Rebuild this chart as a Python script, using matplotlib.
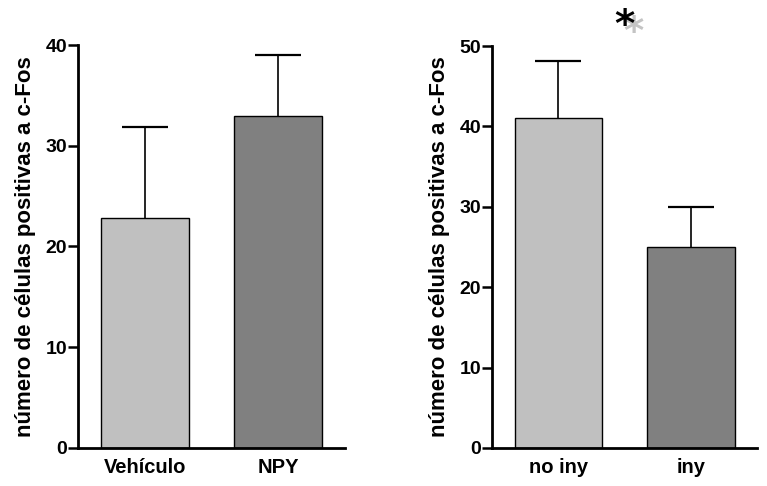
import matplotlib.pyplot as plt

plt.rcParams['font.family'] = ['Liberation Sans', 'DejaVu Sans']
plt.rcParams['font.weight'] = 'bold'

# left panel
cats_left = ['Vehículo', 'NPY']
means_left = [22.8, 33.0]
tops_left = [31.9, 39.0]

# right panel
cats_right = ['no iny', 'iny']
means_right = [41.0, 25.0]
tops_right = [48.1, 30.0]

colors = ['#c0c0c0', '#808080']
ylabel = 'número de células positivas a c-Fos'

fig = plt.figure(figsize=(7.67, 4.86), dpi=100)
ax1 = fig.add_axes([0.1017, 0.0782, 0.348, 0.8292])
ax2 = fig.add_axes([0.6415, 0.0782, 0.3455, 0.8271])


def draw(ax, cats, means, tops, ymax, ticks):
    x = list(range(len(cats)))
    ax.bar(x, means, width=0.66, color=colors, edgecolor='black', linewidth=1.0, zorder=2)
    # upper error bars only, no lower cap
    ax.vlines(x, means, tops, color='black', linewidth=1.2, zorder=1)
    ax.hlines(tops, [i - 0.172 for i in x], [i + 0.172 for i in x],
              color='black', linewidth=1.6, zorder=1)
    ax.set_xlim(-0.5, 1.5)
    ax.set_ylim(0, ymax)
    ax.set_yticks(ticks)
    ax.set_xticks(x)
    ax.set_xticklabels(cats, fontsize=14.5, fontweight='bold')
    ax.tick_params(axis='y', labelsize=14, width=1.8, length=7, pad=1, direction='out')
    ax.tick_params(axis='x', length=0, pad=7)
    for lab in ax.get_yticklabels():
        lab.set_fontweight('bold')
    ax.spines['top'].set_visible(False)
    ax.spines['right'].set_visible(False)
    ax.spines['left'].set_linewidth(2)
    ax.spines['bottom'].set_linewidth(2)
    ax.set_ylabel(ylabel, fontsize=16, fontweight='bold', labelpad=7)


draw(ax1, cats_left, means_left, tops_left, 40, [0, 10, 20, 30, 40])
draw(ax2, cats_right, means_right, tops_right, 50, [0, 10, 20, 30, 40, 50])

# significance mark, grey shadow behind black
fig.text(633 / 767, 1 - 29 / 486, '*', family='DejaVu Sans', color='#c4c4c4',
         fontsize=28, fontweight='bold', ha='center', va='center_baseline')
fig.text(624 / 767, 1 - 22 / 486, '*', family='DejaVu Sans', color='black',
         fontsize=28, fontweight='bold', ha='center', va='center_baseline')

fig.savefig('out.png', dpi=100)
